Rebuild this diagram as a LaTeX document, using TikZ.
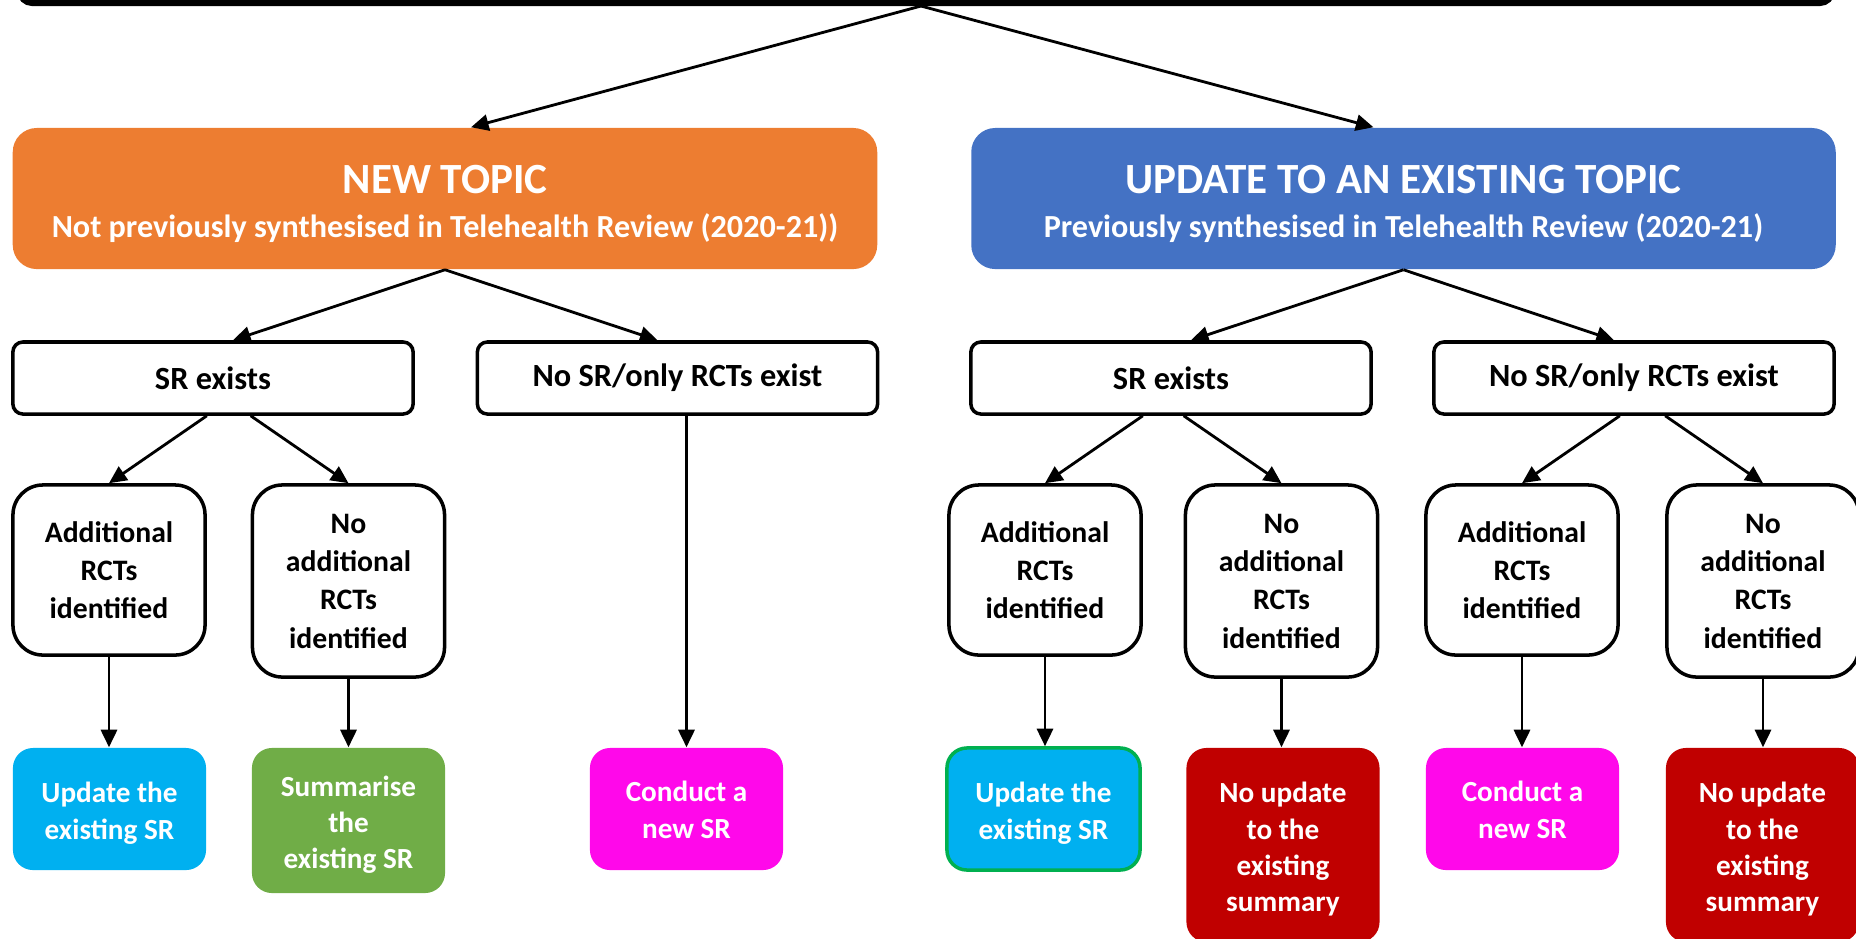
\documentclass[tikz,border=0pt]{standalone}
\usepackage{fontspec}
\setmainfont{Carlito}
\usetikzlibrary{positioning,arrows.meta}
\definecolor{topicorange}{RGB}{237,125,49}
\definecolor{topicblue}{RGB}{68,114,196}
\definecolor{srcyan}{RGB}{0,176,240}
\definecolor{srgreen}{RGB}{112,173,71}
\definecolor{srmagenta}{RGB}{255,8,234}
\definecolor{srred}{RGB}{192,0,0}
\definecolor{edgegreen}{RGB}{0,176,80}
\newcommand{\toptitle}[1]{\rule{0pt}{11pt}{\fontsize{12.25}{12.6}\selectfont #1}}
\newcommand{\actstrut}{\rule{0pt}{8.2pt}}
\newcommand{\actdepth}{\rule[-1.9pt]{0pt}{1.9pt}}
\tikzset{
  topic/.style={rounded corners=0.24cm,minimum width=8.64cm,minimum height=1.41cm,align=center,text=white,font=\fontsize{9.15}{12.6}\selectfont\bfseries},
  cond/.style={draw,line width=1pt,rounded corners=0.1cm,minimum width=4cm,minimum height=0.72cm,font=\fontsize{9.2}{10.9}\selectfont\bfseries},
  rct/.style={draw,line width=1pt,rounded corners=0.3cm,minimum width=1.92cm,align=center,font=\fontsize{8.45}{10.9}\selectfont\bfseries},
  act/.style={rounded corners=0.2cm,minimum width=1.93cm,align=center,text=white,font=\fontsize{8.3}{10.3}\selectfont\bfseries},
  arr/.style={line width=0.8pt,-{Triangle[length=5pt,width=4.6pt]}}
}
\begin{document}
\begin{tikzpicture}[x=0.01cm,y=-0.01cm]
  \useasboundingbox (0,0) rectangle (1856,938);
  \node[draw,line width=1.7pt,rounded corners=0.12cm,minimum width=18.11cm,minimum height=0.9cm] (q) at (926,-42) {};
  % topics
  \node[topic,fill=topicorange] (nt) at (445,198.5) {\toptitle{NEW TOPIC}\\Not previously synthesised in Telehealth Review (2020-21))};
  \node[topic,fill=topicblue] (ut) at (1403.5,198.5) {\toptitle{UPDATE TO AN EXISTING TOPIC}\\Previously synthesised in Telehealth Review (2020-21)};
  \draw[arr] ([xshift=-0.05cm]q.south) -- ([xshift=0.26cm]nt.north);
  \draw[arr] ([xshift=-0.05cm]q.south) -- ([xshift=-0.3cm]ut.north);
  % evidence
  \node[cond] (srL) at (213,378) {SR exists}; \node[cond] (nsL) at (677.5,378) {No SR/only RCTs exist};
  \node[cond] (srR) at (1171,378) {SR exists}; \node[cond] (nsR) at (1634,378) {No SR/only RCTs exist};
  \draw[arr] (nt.south) -- ([xshift=0.2cm]srL.north); \draw[arr] (nt.south) -- ([xshift=-0.2cm]nsL.north);
  \draw[arr] (ut.south) -- ([xshift=0.2cm]srR.north); \draw[arr] (ut.south) -- ([xshift=-0.2cm]nsR.north);
  % search results
  \node[rct,minimum height=1.7cm] (addL) at (109,570) {Additional\\RCTs\\identified};
  \node[rct,minimum height=1.92cm] (noL) at (348.5,581) {No\\additional\\RCTs\\identified};
  \node[rct,minimum height=1.7cm] (addR1) at (1045,570) {Additional\\RCTs\\identified};
  \node[rct,minimum height=1.92cm] (noR1) at (1281.5,581) {No\\additional\\RCTs\\identified};
  \node[rct,minimum height=1.7cm] (addR2) at (1522,570) {Additional\\RCTs\\identified};
  \node[rct,minimum height=1.92cm] (noR2) at (1763,581) {No\\additional\\RCTs\\identified};
  \draw[arr] (srL.south -| addL.east) -- (addL.north); \draw[arr] (srL.south -| noL.west) -- (noL.north);
  \draw[arr] (srR.south -| addR1.east) -- (addR1.north); \draw[arr] (srR.south -| noR1.west) -- (noR1.north);
  \draw[arr] (nsR.south -| addR2.east) -- (addR2.north); \draw[arr] (nsR.south -| noR2.west) -- (noR2.north);
  % actions
  \node[act,fill=srcyan,minimum height=1.22cm] (updL) at (109.5,809) {\actstrut Update the\\existing SR};
  \node[act,fill=srgreen,minimum height=1.45cm] (sumL) at (348.5,820.5) {\actstrut Summarise\\the\\existing SR};
  \node[act,fill=srmagenta,minimum height=1.22cm] (conL) at (686.5,809) {\actstrut Conduct a\\new SR\actdepth};
  \node[act,fill=srcyan,draw=edgegreen,line width=1pt,minimum height=1.22cm] (updR) at (1043.5,809) {\actstrut Update the\\existing SR};
  \node[act,fill=srred,minimum height=1.94cm] (nuR1) at (1283,845) {\actstrut No update\\to the\\existing\\summary};
  \node[act,fill=srmagenta,minimum height=1.22cm] (conR) at (1522.5,809) {\actstrut Conduct a\\new SR\actdepth};
  \node[act,fill=srred,minimum height=1.94cm] (nuR2) at (1762.5,845) {\actstrut No update\\to the\\existing\\summary};
  \draw[arr] (addL.south) -- (addL.south |- updL.north); \draw[arr] (noL.south) -- (noL.south |- sumL.north);
  \draw[arr] (nsL.south -| conL.north) -- (conL.north);
  \draw[arr] (addR1.south) -- (addR1.south |- updR.north); \draw[arr] (noR1.south) -- (noR1.south |- nuR1.north);
  \draw[arr] (addR2.south) -- (addR2.south |- conR.north); \draw[arr] (noR2.south) -- (noR2.south |- nuR2.north);
\end{tikzpicture}
\end{document}
